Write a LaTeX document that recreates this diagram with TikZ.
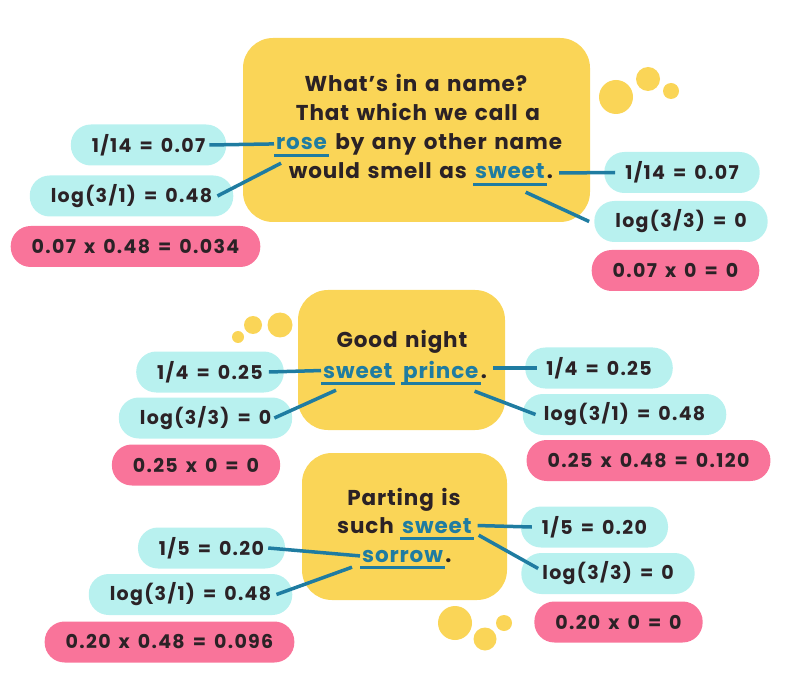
\documentclass[tikz,border=0pt]{standalone}
\usepackage{fontspec}
\setmainfont{Poppins}[LetterSpace=7, WordSpace=1.5]
\newfontfamily\versefam{Poppins}[LetterSpace=4, WordSpace=1.4]
\usepackage{xcolor}
\usetikzlibrary{positioning}
\definecolor{yellowc}{HTML}{FAD557}
\definecolor{cyanc}{HTML}{B8F1EF}
\definecolor{pinkc}{HTML}{F9749A}
\definecolor{bluec}{HTML}{1F7CA1}
\definecolor{inkc}{HTML}{2B2226}
\newcommand\quotefont{\versefam\bfseries\fontsize{21.5}{25}\selectfont}
\newcommand\pillfont{\bfseries\fontsize{19}{22}\selectfont}

\begin{document}
\begin{tikzpicture}[x=1pt, y=-1pt,
  quote/.style={fill=yellowc, rounded corners=30pt, inner sep=0pt},
  verse/.style={font=\quotefont, text=inkc, inner sep=0pt, text depth=0pt, anchor=base},
  word/.style={verse, text=bluec, anchor=base west, inner xsep=2pt, inner ysep=5pt},
  pill/.style={font=\pillfont, text=inkc, rounded corners=20pt, minimum height=41pt, inner xsep=21pt, inner ysep=0pt},
  tf/.style={pill, fill=cyanc},
  score/.style={pill, fill=pinkc},
  link/.style={bluec, line width=3.5pt},
  uline/.style={bluec, line width=3pt},
  bubble/.style={fill=yellowc}]
  \useasboundingbox (0,0) rectangle (800,700);

  % thought bubbles
  \fill[bubble] (616,97) circle (17);
  \fill[bubble] (648,79) circle (12);
  \fill[bubble] (671,91) circle (8);
  \fill[bubble] (280,325) circle (12.5);
  \fill[bubble] (253,325) circle (9);
  \fill[bubble] (238,337) circle (6);
  \fill[bubble] (455,623) circle (17);
  \fill[bubble] (485,639) circle (11.5);
  \fill[bubble] (504,623) circle (8);

  % quotes
  \node[quote, minimum width=347pt, minimum height=184pt] (q1) at (416.5,130) {};
  \node[quote, minimum width=207pt, minimum height=140pt] (q2) at (401.5,360) {};
  \node[quote, minimum width=205pt, minimum height=147pt] (q3) at (404.5,526.5) {};

  \node[verse] (q1a) at (416,92) {What’s in a name?};
  \node[verse] (q1b) at (418,121) {That which we call a};
  \node[word] (rose) at (274,150) {rose};
  \node[verse, anchor=base west] (q1c) at ([xshift=6]rose.base east) {by any other name};
  \node[word] (sweetA) at (473,179) {sweet};
  \node[verse, anchor=base east] (q1d) at ([xshift=-6]sweetA.base west) {would smell as};
  \node[verse, anchor=base west] (stopA) at (sweetA.base east) {.};

  \node[verse] (q2a) at (402,348) {Good night};
  \node[word] (sweetB) at (321,378) {sweet};
  \node[word] (prince) at (401,378) {prince};
  \node[verse, anchor=base west] (stopB) at (prince.base east) {.};

  \node[verse] (q3a) at (404,505) {Parting is};
  \node[word] (sweetC) at (400,533) {sweet};
  \node[verse, anchor=base east] (q3b) at ([xshift=-6]sweetC.base west) {such};
  \node[word] (sorrow) at (360,562) {sorrow};
  \node[verse, anchor=base west] (stopC) at (sorrow.base east) {.};

  \foreach \w in {rose,sweetA,sweetB,prince,sweetC,sorrow}
    \draw[uline] (\w.south west) -- (\w.south east);

  % term frequency, idf and product
  \node[tf] (f1) at (148.5,145) {1/14 = 0.07};
  \node[tf] (f2) at (131.5,196) {log(3/1) = 0.48};
  \node[score] (s1) at (135.5,246.5) {0.07 x 0.48 = 0.034};
  \node[tf] (g1) at (682,172.5) {1/14 = 0.07};
  \node[tf] (g2) at (681,221.5) {log(3/3) = 0};
  \node[score] (s2) at (675.5,270.5) {0.07 x 0 = 0};

  \node[tf] (f3) at (210,372) {1/4 = 0.25};
  \node[tf] (f4) at (205.5,418) {log(3/3) = 0};
  \node[score] (s3) at (196,465) {0.25 x 0 = 0};
  \node[tf] (g3) at (599,368) {1/4 = 0.25};
  \node[tf] (g4) at (624.5,414.5) {log(3/1) = 0.48};
  \node[score] (s4) at (648.5,460.5) {0.25 x 0.48 = 0.120};

  \node[tf] (f5) at (211.5,548) {1/5 = 0.20};
  \node[tf] (f6) at (190.5,594.5) {log(3/1) = 0.48};
  \node[score] (s5) at (169.5,642) {0.20 x 0.48 = 0.096};
  \node[tf] (g5) at (594.5,527) {1/5 = 0.20};
  \node[tf] (g6) at (608,573.5) {log(3/3) = 0};
  \node[score] (s6) at (618.5,622) {0.20 x 0 = 0};

  % connectors
  \draw[link] ([xshift=-17]f1.east) -- (rose.west);
  \draw[link] ([xshift=-16]f2.east) -- ([shift={(7,8)}]rose.south west);
  \draw[link] ([shift={(6,-6)}]stopA.base east) -- ([xshift=11]g1.west);
  \draw[link] ([shift={(-21,8)}]sweetA.south east) -- ([xshift=-5]g2.west);

  \draw[link] ([xshift=-15]f3.east) -- (sweetB.west);
  \draw[link] ([xshift=-18]f4.east) -- ([shift={(15,7)}]sweetB.south west);
  \draw[link] ([shift={(6,-10)}]stopB.base east) -- ([xshift=12]g3.west);
  \draw[link] ([shift={(-6,8)}]prince.south east) -- ([xshift=13]g4.west);

  \draw[link] ([xshift=-17]f5.east) -- (sorrow.west);
  \draw[link] ([xshift=-16]f6.east) -- ([xshift=-8]sorrow.south west);
  \draw[link] ([xshift=4]sweetC.east) -- ([xshift=11]g5.west);
  \draw[link] ([shift={(5,-3)}]sweetC.south east) -- ([shift={(17,-5)}]g6.west);
\end{tikzpicture}
\end{document}
